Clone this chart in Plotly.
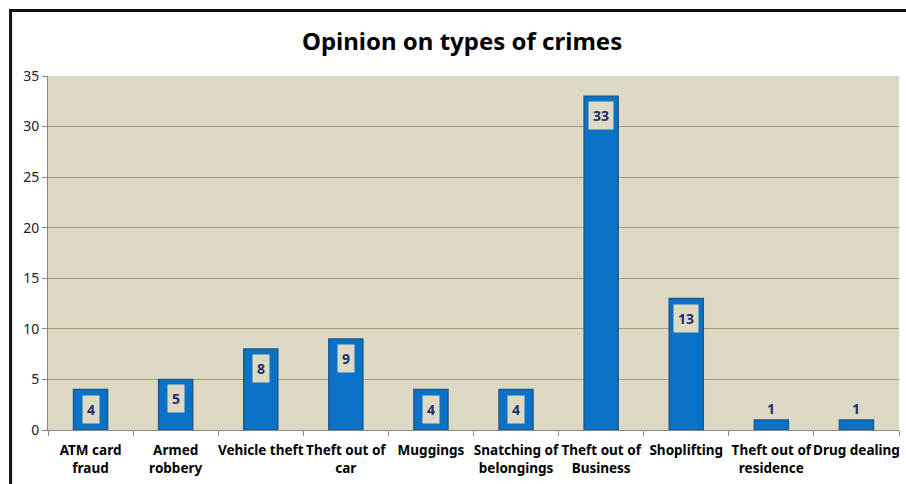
import plotly.graph_objects as go

categories = ["ATM card<br>fraud", "Armed<br>robbery", "Vehicle theft", "Theft out of<br>car", "Muggings",
              "Snatching of<br>belongings", "Theft out of<br>Business", "Shoplifting", "Theft out of<br>residence", "Drug dealing"]
values = [4, 5, 8, 9, 4, 4, 33, 13, 1, 1]

fig = go.Figure()
fig.add_trace(go.Bar(
    x=categories, y=values,
    marker=dict(color="#0A72C6", line=dict(color="#1B5A92", width=1.5)),
    width=0.4,
))

for c, v in zip(categories, values):
    if v >= 3:
        fig.add_annotation(x=c, y=v, text=f"<b>{v}</b>", showarrow=False, yanchor="top", yshift=-5,
                           bgcolor="#DDD9C3", font=dict(family="Noto Sans", size=14, color="#1F2F6F"),
                           borderpad=4)
    else:
        fig.add_annotation(x=c, y=v, text=f"<b>{v}</b>", showarrow=False, yanchor="bottom", yshift=0,
                           font=dict(family="Noto Sans", size=14, color="#1F2F6F"))

fig.update_layout(
    width=906, height=484,
    margin=dict(l=48, r=7, t=76, b=54, autoexpand=False),
    paper_bgcolor="white",
    plot_bgcolor="#DDD8C3",
    showlegend=False,
    title=dict(text="<b>Opinion on types of crimes</b>", x=0.51, xanchor="center", y=0.914, yanchor="middle",
               font=dict(family="Noto Sans", size=24, color="black")),
    xaxis=dict(tickfont=dict(family="Noto Sans", size=13.5, color="black"), ticks="outside", tickson="boundaries",
               tickangle=0, automargin=False, ticklabelstandoff=8,
               ticklen=5, tickcolor="#888", showline=True, linecolor="#888", linewidth=1, tickprefix="<b>", ticksuffix="</b>"),
    yaxis=dict(range=[0, 35], dtick=5, tickfont=dict(family="Noto Sans", size=14, color="#222"), automargin=False,
               ticks="outside", ticklen=5, tickcolor="#888", showline=True, linecolor="#888",
               gridcolor="#A39D72", gridwidth=1, zeroline=False),
    shapes=[dict(type="rect", xref="paper", yref="paper", x0=-0.044, x1=1.1, y0=-0.3, y1=1.185,
                 line=dict(color="#111", width=3), layer="above")],
)
fig.write_html("out.html")
